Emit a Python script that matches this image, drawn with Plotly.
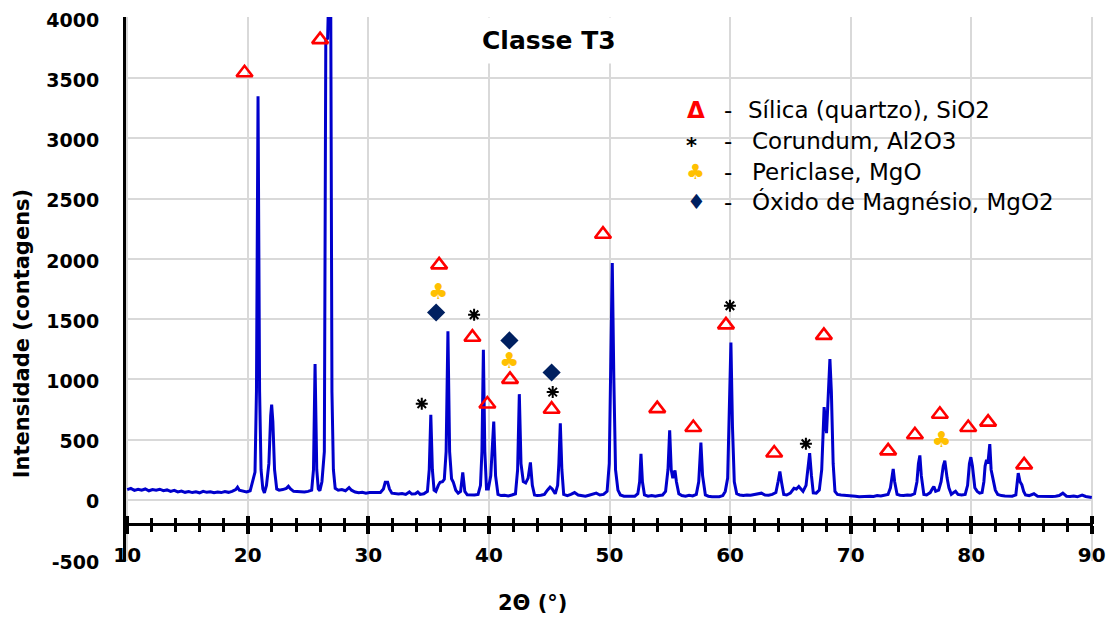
import plotly.graph_objects as go

# ---- Data ----
two_theta = [
    10.0, 10.3, 10.6, 10.9, 11.2, 11.5, 11.8, 12.1, 12.4, 12.7, 13.0, 13.3, 13.6, 13.9, 14.2, 14.5,
    14.8, 15.1, 15.4, 15.7, 16.0, 16.3, 16.6, 16.9, 17.2, 17.5, 17.8, 18.1, 18.4, 18.7, 19.0, 19.15,
    19.3, 19.6, 19.9, 20.2, 20.45, 20.6, 20.72, 20.85, 20.98, 21.1, 21.25, 21.38, 21.55, 21.75, 21.9,
    21.98, 22.08, 22.22, 22.4, 22.6, 22.9, 23.2, 23.37, 23.55, 23.8, 24.1, 24.4, 24.7, 25.0, 25.3,
    25.45, 25.58, 25.72, 25.85, 25.98, 26.15, 26.35, 26.47, 26.62, 26.86, 26.98, 27.1, 27.25, 27.5,
    27.8, 28.1, 28.4, 28.6, 28.9, 29.2, 29.5, 29.8, 30.1, 30.4, 30.7, 31.0, 31.25, 31.4, 31.6, 31.75,
    31.95, 32.2, 32.5, 32.8, 33.1, 33.4, 33.6, 33.9, 34.1, 34.3, 34.6, 34.9, 35.05, 35.18, 35.31,
    35.45, 35.6, 35.8, 35.95, 36.15, 36.3, 36.45, 36.6, 36.74, 36.9, 37.05, 37.25, 37.45, 37.65,
    37.83, 38.0, 38.2, 38.5, 38.8, 39.1, 39.3, 39.42, 39.54, 39.66, 39.8, 39.95, 40.15, 40.4, 40.55,
    40.75, 41.0, 41.3, 41.6, 41.9, 42.2, 42.38, 42.52, 42.66, 42.85, 43.05, 43.25, 43.44, 43.6, 43.78,
    44.0, 44.3, 44.6, 44.85, 45.07, 45.25, 45.5, 45.7, 45.8, 45.92, 46.05, 46.2, 46.5, 46.8, 47.1,
    47.4, 47.7, 48.0, 48.3, 48.6, 48.9, 49.2, 49.5, 49.8, 49.98, 50.1, 50.23, 50.36, 50.5, 50.7, 50.9,
    51.2, 51.5, 51.8, 52.1, 52.35, 52.5, 52.61, 52.73, 52.9, 53.2, 53.5, 53.8, 54.1, 54.4, 54.65,
    54.85, 54.99, 55.12, 55.25, 55.43, 55.55, 55.75, 56.0, 56.3, 56.6, 56.9, 57.2, 57.4, 57.58, 57.72,
    57.95, 58.2, 58.5, 58.8, 59.1, 59.4, 59.6, 59.8, 59.95, 60.07, 60.2, 60.35, 60.55, 60.8, 61.1,
    61.4, 61.7, 62.0, 62.3, 62.6, 62.9, 63.2, 63.5, 63.8, 63.98, 64.13, 64.28, 64.45, 64.7, 65.0,
    65.3, 65.5, 65.7, 65.9, 66.05, 66.3, 66.47, 66.6, 66.75, 66.9, 67.15, 67.4, 67.6, 67.72, 67.8,
    68.0, 68.15, 68.28, 68.4, 68.55, 68.7, 68.9, 69.2, 69.5, 69.8, 70.1, 70.4, 70.7, 71.0, 71.3, 71.6,
    71.9, 72.2, 72.5, 72.8, 73.1, 73.3, 73.43, 73.53, 73.65, 73.85, 74.1, 74.4, 74.7, 75.0, 75.3,
    75.5, 75.62, 75.74, 75.86, 76.07, 76.3, 76.6, 76.8, 76.9, 77.05, 77.3, 77.5, 77.68, 77.81, 77.92,
    78.0, 78.15, 78.35, 78.55, 78.7, 78.9, 79.2, 79.5, 79.7, 79.85, 79.97, 80.1, 80.3, 80.5, 80.7,
    80.9, 81.05, 81.15, 81.27, 81.38, 81.54, 81.65, 81.8, 82.0, 82.2, 82.5, 82.8, 83.1, 83.4, 83.7,
    83.8, 83.9, 84.05, 84.2, 84.35, 84.5, 84.8, 85.2, 85.5, 85.8, 86.1, 86.4, 86.7, 87.0, 87.3, 87.6,
    87.9, 88.2, 88.5, 88.8, 89.2, 89.5, 89.8, 90.0,
]
intensity = [
    85, 95, 78, 88, 80, 90, 75, 85, 80, 88, 76, 82, 70, 78, 65, 72,
    62, 68, 60, 66, 58, 70, 62, 66, 58, 65, 60, 68, 62, 70, 85, 105,
    80, 72, 66, 75, 160, 230, 900, 3350, 900, 250, 90, 58, 120, 300, 700,
    790, 650, 250, 90, 80, 85, 95, 112, 90, 70, 68, 72, 65, 70, 80,
    250, 1127, 250, 90, 75, 150, 400, 3820, 3830, 4800, 900, 250, 95, 80,
    85, 75, 102, 80, 65, 58, 62, 55, 60, 58, 62, 60, 90, 145, 145, 90,
    55, 50, 48, 52, 45, 65, 48, 50, 65, 45, 50, 70, 250, 706, 250,
    80, 70, 120, 145, 150, 170, 400, 1400, 400, 175, 145, 80, 55, 70,
    227, 70, 42, 38, 40, 45, 120, 400, 1245, 400, 90, 90, 200, 650, 200,
    45, 35, 38, 32, 40, 50, 250, 877, 300, 152, 140, 180, 310, 120, 40,
    35, 38, 45, 80, 105, 90, 50, 120, 300, 636, 250, 45, 35, 45, 60,
    40, 32, 30, 38, 45, 55, 40, 45, 70, 300, 1100, 1965, 1000, 250, 80, 40,
    30, 28, 32, 30, 50, 150, 382, 150, 40, 30, 35, 30, 35, 40, 70,
    250, 576, 250, 180, 243, 150, 50, 35, 30, 38, 32, 45, 150, 476, 200,
    40, 30, 25, 28, 25, 35, 70, 180, 700, 1306, 600, 150, 50, 40, 35,
    40, 38, 42, 45, 55, 40, 38, 45, 60, 150, 235, 140, 45, 40, 55,
    96, 90, 110, 85, 70, 120, 300, 387, 200, 58, 55, 80, 250, 600, 769,
    553, 900, 1168, 900, 300, 70, 45, 40, 38, 40, 35, 30, 25, 28, 25, 30,
    28, 35, 32, 38, 45, 100, 200, 257, 150, 45, 38, 35, 40, 38, 50,
    150, 300, 368, 200, 45, 40, 60, 95, 111, 70, 80, 150, 280, 324, 220,
    180, 100, 45, 60, 70, 45, 40, 45, 120, 300, 354, 280, 100, 70, 55,
    60, 150, 280, 332, 300, 462, 250, 180, 80, 45, 35, 32, 28, 30, 40,
    120, 221, 150, 125, 70, 40, 35, 50, 30, 28, 32, 25, 28, 30, 35, 55,
    30, 28, 32, 25, 40, 28, 22, 20,
]

# Phase markers (2theta, label height)
silica_x = [19.73, 26.0, 35.87, 38.63, 39.87, 41.75, 45.2, 49.46, 53.96, 56.95, 59.66, 63.66,
            67.78, 73.11, 75.33, 77.4, 79.75, 81.4, 84.39]
silica_y = [3545, 3820, 1950, 1350, 795, 1000, 752, 2205, 757, 600, 1452, 388,
            1365, 406, 540, 710, 600, 645, 290]
corundum_x = [34.43, 38.77, 45.29, 59.99, 66.29]
corundum_y = [797, 1536, 894, 1611, 465]
periclase_x = [35.81, 41.7, 77.54]
periclase_y = [1710, 1140, 484]
mgo2_x = [35.62, 41.7, 45.2]
mgo2_y = [1555, 1323, 1057]

legend_symbols = ["Δ", "*", "♣", "♦"]
legend_colors = ["#FF0000", "#000000", "#FFC000", "#002060"]
legend_labels = ["Sílica (quartzo), SiO2", "Corundum, Al2O3", "Periclase, MgO",
                 "Óxido de Magnésio, MgO2"]

y_ticks = [-500, 0, 500, 1000, 1500, 2000, 2500, 3000, 3500, 4000]
y_tick_labels = ["-500", "0", "500", "1000", "1500", "2000", "2500", "3000", "3500", "4000"]
x_ticks = [10, 20, 30, 40, 50, 60, 70, 80, 90]
x_tick_labels = ["10", "20", "30", "40", "50", "60", "70", "80", "90"]

# ---- Layout geometry (the page body adds an 8 px offset) ----
OFF = 8
W, H = 1117 - OFF, 622 - OFF
# screen pixels where x=10, x=90, y=4000, y=-500 fall in the reference
X10_PX, X90_PX, Y4000_PX, YM500_PX = 127.0, 1092.0, 18.0, 560.0
XPAD, YPAD = 0.1, 8.0          # small data padding so edge gridlines are drawn
XMIN, XMAX = 10 - XPAD, 90 + XPAD
YMIN, YMAX = -500 - YPAD, 4000 + YPAD
sx = (X90_PX - X10_PX) / 80.0
sy = (YM500_PX - Y4000_PX) / 4500.0
PLOT_L = X10_PX - XPAD * sx
PLOT_R = X90_PX + XPAD * sx
PLOT_T = Y4000_PX - YPAD * sy
PLOT_B = YM500_PX + YPAD * sy
L, T = PLOT_L - OFF, PLOT_T - OFF
R, B = W - (PLOT_R - OFF), H - (PLOT_B - OFF)
PW, PH = PLOT_R - PLOT_L, PLOT_B - PLOT_T
def px(xp):
    return (xp - PLOT_L) / PW
def py(yp):
    return (PLOT_B - yp) / PH

axis_pos = (-200 - YMIN) / (YMAX - YMIN)

FONT = "DejaVu Sans"

fig = go.Figure()
fig.add_trace(go.Scatter(x=two_theta, y=intensity, mode="lines",
                         line=dict(color="#0000CC", width=3), showlegend=False,
                         hoverinfo="skip"))
fig.add_trace(go.Scatter(x=silica_x, y=silica_y, mode="markers", showlegend=False,
                         marker=dict(symbol="triangle-up-open", size=14, color="#FF0000",
                                     line=dict(width=2.6, color="#FF0000"))))
fig.add_trace(go.Scatter(x=corundum_x, y=corundum_y, mode="markers", showlegend=False,
                         marker=dict(symbol="asterisk-open", size=10, color="#000000",
                                     line=dict(width=2, color="#000000"))))
fig.add_trace(go.Scatter(x=periclase_x, y=periclase_y, mode="text", text=["♣"] * len(periclase_x),
                         textfont=dict(family=FONT, size=22, color="#FFC000"),
                         textposition="middle center", showlegend=False))
fig.add_trace(go.Scatter(x=mgo2_x, y=mgo2_y, mode="markers", showlegend=False,
                         marker=dict(symbol="diamond", size=14, color="#002060")))
# dummy trace so the second (tick-only) x axis is drawn
fig.add_trace(go.Scatter(x=[10, 90], y=[None, None], xaxis="x2", mode="lines",
                         showlegend=False, hoverinfo="skip"))

fig.update_layout(
    width=W, height=H,
    margin=dict(l=L, r=R, t=T, b=B, autoexpand=False),
    paper_bgcolor="white", plot_bgcolor="white",
    font=dict(family=FONT, color="black"),
    xaxis=dict(range=[XMIN, XMAX], tickvals=x_ticks, ticktext=x_tick_labels, showgrid=True,
               gridcolor="#D9D9D9", automargin=False,
               gridwidth=2, zeroline=False, anchor="free", position=axis_pos,
               showline=True, linecolor="black", linewidth=3,
               ticks="outside", ticklen=8, tickwidth=3.5, tickcolor="black",
               minor=dict(tickvals=list(range(12, 90, 2)), ticks="outside", ticklen=6,
                          tickwidth=2.5, tickcolor="black", showgrid=False),
               tickfont=dict(family=FONT, size=20, color="black", weight="bold"),
               ticklabelstandoff=4, ticklabeloverflow="allow"),
    xaxis2=dict(range=[XMIN, XMAX], overlaying="x", anchor="free", position=axis_pos,
                tickvals=x_ticks, showgrid=False, zeroline=False, showline=False,
                automargin=False,
                ticks="inside", ticklen=8, tickwidth=3.5, tickcolor="black",
                minor=dict(tickvals=list(range(12, 90, 2)), ticks="inside", ticklen=6,
                           tickwidth=2.5, tickcolor="black", showgrid=False),
                showticklabels=False),
    yaxis=dict(range=[YMIN, YMAX], tickvals=y_ticks, ticktext=y_tick_labels, showgrid=True,
               gridcolor="#D9D9D9", automargin=False,
               gridwidth=2, zeroline=False, showline=True, linecolor="black", linewidth=3,
               ticks="", tickfont=dict(family=FONT, size=19, color="black", weight="bold"),
               ticklabelstandoff=20, ticklabelshift=2, ticklabeloverflow="allow"),
)

# legend white box
fig.add_shape(type="rect", xref="paper", yref="paper", x0=px(668), x1=px(1090),
              y0=py(223), y1=py(80), fillcolor="white", line=dict(width=0), layer="between")

annotations = []
# title
annotations.append(dict(text="<b>Classe T3</b>", xref="paper", yref="paper", x=px(549), y=py(41),
                        xanchor="center", yanchor="middle", showarrow=False, bgcolor="white",
                        borderpad=8, font=dict(family=FONT, size=25, color="black")))
# axis titles
annotations.append(dict(text="<b>2Θ (°)</b>", xref="paper", yref="paper", x=px(532), y=py(603),
                        xanchor="center", yanchor="middle", showarrow=False,
                        font=dict(family=FONT, size=21, color="black")))
annotations.append(dict(text="<b>Intensidade (contagens)</b>", xref="paper", yref="paper",
                        x=px(22), y=py(334), xanchor="center", yanchor="middle", textangle=-90,
                        showarrow=False, font=dict(family=FONT, size=21, color="black")))
# legend rows
rows_y = [110, 141, 172, 202]
sym_x = [696, 692, 696, 697]
sym_dy = [0, 5, 0, 0]
sym_size = [23, 21, 21, 21]
text_x = [746, 750, 750, 750]
for i in range(4):
    annotations.append(dict(text=legend_symbols[i],
                            xref="paper", yref="paper", x=px(sym_x[i]), y=py(rows_y[i] + sym_dy[i]),
                            xanchor="center", yanchor="middle", showarrow=False,
                            font=dict(family=FONT, size=sym_size[i], color=legend_colors[i],
                                      weight="bold" if i < 2 else "normal")))
    annotations.append(dict(text="-", xref="paper", yref="paper", x=px(728), y=py(rows_y[i]),
                            xanchor="center", yanchor="middle", showarrow=False,
                            font=dict(family=FONT, size=23, color="black")))
    annotations.append(dict(text=legend_labels[i], xref="paper", yref="paper", x=px(text_x[i]),
                            y=py(rows_y[i]), xanchor="left", yanchor="middle", showarrow=False,
                            font=dict(family=FONT, size=23, color="black")))
fig.update_layout(annotations=annotations)

fig.write_html("out.html")
